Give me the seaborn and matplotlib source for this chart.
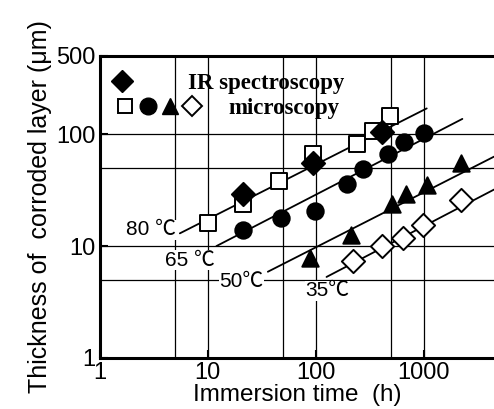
import numpy as np
import pandas as pd
import matplotlib
matplotlib.use("Agg")
import matplotlib.pyplot as plt
import seaborn as sns
from matplotlib.lines import Line2D
from matplotlib.legend_handler import HandlerTuple

sns.set_style("ticks")
plt.rcParams['font.family'] = ['Liberation Sans', 'DejaVu Sans']
plt.rcParams['text.color'] = 'black'
plt.rcParams['axes.labelcolor'] = 'black'
plt.rcParams['xtick.color'] = 'black'
plt.rcParams['ytick.color'] = 'black'
plt.rcParams['axes.edgecolor'] = 'black'

# data (immersion time h, thickness um)
t80_mic = [10, 21, 46, 94, 240, 337, 493]
d80_mic = [16, 24, 38, 66, 81, 106, 145]
t80_ir = [21, 94, 410]
d80_ir = [29, 55, 105]
t65 = [21, 48, 98, 194, 273, 465, 660, 1020]
d65 = [14, 18, 20.5, 36, 49, 66, 85, 102]
t50 = [88, 214, 505, 690, 1070, 2240]
d50 = [7.8, 12.6, 23.6, 29, 35, 55]
t35 = [220, 410, 640, 980, 2240]
d35 = [7.3, 10, 11.8, 15.5, 25.6]

# fitted lines, end points
fit_t = {'80': [5.5, 1070], '65': [12, 2290], '50': [36, 4500], '35': [126, 4500]}
fit_d = {'80': [13, 170], '65': [10, 137], '50': [5.9, 63], '35': [5.3, 32]}

temp_labels = ['80 \u2103', '65 \u2103', '50\u2103', '35\u2103']
label_t = [2.97, 6.8, 20.6, 129]
label_d = [14, 7.5, 4.8, 4.0]

fig = plt.figure(figsize=(4.94, 4.09), dpi=100)
ax = fig.add_axes([0.2024, 0.1247, 0.7976, 0.7384])
ax.set_xscale('log')
ax.set_yscale('log')
ax.set_xlim(1, 4500)
ax.set_ylim(1, 500)

for v in [5, 10, 50, 100, 500, 1000]:
    ax.axvline(v, color='black', lw=0.9, zorder=1)
for v in [5, 10, 50, 100]:
    ax.axhline(v, color='black', lw=0.9, zorder=1)

for k in fit_t:
    sns.lineplot(x=fit_t[k], y=fit_d[k], ax=ax, color='black', lw=1.3, zorder=2)

mk = dict(s=140, edgecolor='black', linewidth=1.4, zorder=4, legend=False)
sns.scatterplot(x=t80_mic, y=d80_mic, ax=ax, marker='s', color='white', **mk)
sns.scatterplot(x=t80_ir, y=d80_ir, ax=ax, marker='D', color='black', **mk)
sns.scatterplot(x=t65, y=d65, ax=ax, marker='o', color='black', **mk)
sns.scatterplot(x=t50, y=d50, ax=ax, marker='^', color='black', **mk)
sns.scatterplot(x=t35, y=d35, ax=ax, marker='D', color='white', **mk)

for lab, x, y in zip(temp_labels, label_t, label_d):
    ax.text(x, y, lab, fontsize=15, ha='center', va='center', zorder=3,
            family=['Liberation Sans', 'Noto Sans CJK JP'],
            bbox=dict(facecolor='white', edgecolor='none', pad=0.5))

ax.set_xticks([1, 10, 100, 1000])
ax.set_xticklabels(['1', '10', '100', '1000'])
ax.set_yticks([1, 10, 100, 500])
ax.set_yticklabels(['1', '10', '100', '500'])
ax.minorticks_off()
ax.tick_params(direction='in', length=6, width=1.5, labelsize=17, pad=3)

for s in ['left', 'bottom', 'top']:
    ax.spines[s].set_linewidth(2.2)
ax.spines['right'].set_visible(False)

ax.set_xlabel('Immersion time  (h)', fontsize=17.5, labelpad=0)
ax.set_ylabel('Thickness of  corroded layer (\u03bcm)', fontsize=18, labelpad=3)

# legend
h_ir = Line2D([], [], marker='D', color='black', ls='none', markersize=11)
h_sq = Line2D([], [], marker='s', mfc='white', mec='black', mew=1.4, ls='none', markersize=10)
h_ci = Line2D([], [], marker='o', color='black', ls='none', markersize=12)
h_tr = Line2D([], [], marker='^', color='black', ls='none', markersize=12)
h_od = Line2D([], [], marker='D', mfc='white', mec='black', mew=1.4, ls='none', markersize=10)
leg_font = dict(family='Liberation Serif', weight='bold', size=16.5)
leg1 = ax.legend([h_ir], ['IR spectroscopy'], loc='upper left', bbox_to_anchor=(0.036, 0.945),
                 frameon=False, prop=leg_font, handlelength=0.7, handletextpad=2.5,
                 borderpad=0, borderaxespad=0)
ax.add_artist(leg1)
ax.legend([(h_sq, h_ci, h_tr, h_od)], ['microscopy'], loc='upper left',
          bbox_to_anchor=(0.036, 0.862), frameon=False, prop=leg_font,
          handlelength=3.9, handletextpad=1.1, borderpad=0, borderaxespad=0,
          handler_map={tuple: HandlerTuple(ndivide=None, pad=0)})

fig.savefig('out.png', dpi=100)
